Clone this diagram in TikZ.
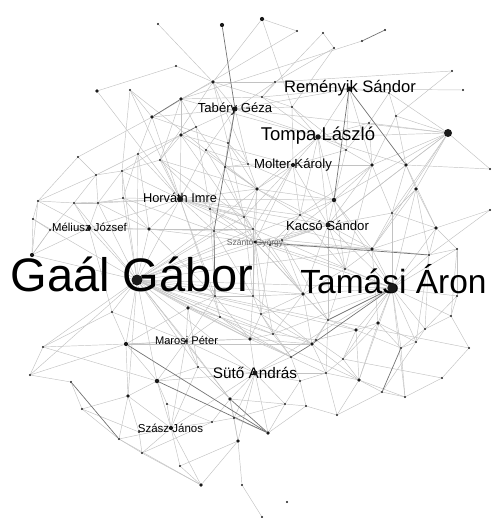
\documentclass[tikz,border=0pt]{standalone}
\usepackage{fontspec}
\newfontfamily\labfont{Liberation Sans}
\pgfdeclarelayer{edges}
\pgfdeclarelayer{dots}
\pgfsetlayers{edges,main,dots}
\begin{document}
\begin{tikzpicture}[x=1pt,y=-1pt,
  pt/.style={circle,fill=black!90,draw=none,inner sep=0pt},
  ln/.style={draw=black!24,line width=0.45pt},
  lnd/.style={draw=black!55,line width=0.7pt},
  lab/.style={font=\labfont,text=black,inner sep=0pt,anchor=base}]
\useasboundingbox (0,0) rectangle (491,518);

% vertices: name / x / y / diameter
\begin{pgfonlayer}{dots}
\foreach \n/\x/\y/\d in {
 a1/158/24/2.2, a2/222/25/4.2, a3/262/19/4.2, a4/297/31/2.2, a5/323/33/2.2,
 a6/385/30/2.2, a7/362/41/2.2, a8/334/48/2.2, a9/176/66/2.2, a10/213/82/3.8,
 a11/97/91/3.8, a12/130/90/2.2, a13/181/99/3.8, a14/152/117/3.8, a15/235/109/5,
 a16/196/127/2.2, a17/181/135/3.8, a18/228/143/2.2, a19/206/150/2.2, a20/138/154/2.2,
 a21/78/157/2.2, a22/160/160/2.2, a23/248/164/2.2, a24/225/167/2.2, a25/96/175/2.2,
 a26/122/171/2.2, a27/275/82/2.2, a28/452/71/2.2, a29/463/90/2.2, rem/349/89/5,
 a30/262/97/2.2, a31/389/93/2.2, a32/292/107/2.2, a33/396/116/2.2, a34/369/123/2.2,
 tom/318/137/5.5, big1/448/133/8, a35/346/150/2.2, mol/293/165/4.2, a36/372/165/3.8,
 a37/406/165/3.8, a38/490/169/2.2, a39/257/189/3.8, a40/334/200/4.5, a41/416/189/3.8,
 hor/180/199/6, a42/38/201/2.2, a43/74/203/2.2, a44/98/203/2.2, a45/123/198/2.2,
 a46/210/209/2.2, a47/33/219/2.2, a48/50/230/2.2, mel/89/228/4.5, a49/149/229/3.8,
 a50/244/217/2.2, a51/214/231/2.2, a52/300/215/2.2, a53/392/213/2.2, a54/490/210/2.2,
 kac/328/225/5, a55/436/228/3.8, a56/253/229/2.2, sza/255/242/3.5, a57/270/245/2.2,
 a58/282/240/2.2, a59/372/249/3.8, a60/457/249/2.2, a61/429/255/2.2, a62/32/255/4.2,
 gaal/137/280/11, a63/345/269/2.2, tam/392/288/9.5, a64/215/296/2.2, a65/253/296/2.2,
 a66/303/294/3.8, a67/457/296/2.2, a68/188/308/3.8, a69/112/312/2.2, a70/220/317/2.2,
 a71/261/314/2.2, a72/451/316/2.2, a73/328/320/2.2, a74/378/323/3.8, a75/356/330/3.8,
 a76/425/329/2.2, a77/250/339/3.8, a78/273/334/2.2, a79/312/344/3.8, a80/316/340/2.2,
 a81/416/342/2.2, a82/401/348/2.2, a83/469/348/2.2, a84/126/344/4.2, a85/43/347/2.2,
 mar/186/341/3.5, a86/291/357/2.2, a87/343/359/2.2, a88/198/367/2.2, sut/255/373/5,
 a89/326/373/2.2, a90/300/381/2.2, a91/359/380/3.8, a92/442/378/2.2, a93/30/375/2.2,
 a94/71/382/2.2, a95/157/381/4.5, a96/382/392/2.2, a97/405/397/2.2, a98/128/396/3.8,
 a99/230/399/3.8, a100/285/404/2.2, a101/306/406/2.2, a102/337/415/2.2, a103/82/409/2.2,
 a104/167/404/2.2, a105/234/418/2.2, a106/212/422/2.2, szj/171/428/4.2, a107/139/432/2.2,
 a108/119/439/2.2, a109/268/433/3.8, a110/238/441/3.8, a111/142/453/2.2, a112/180/466/2.2,
 a113/201/485/3.8, a114/242/485/2.2, a115/287/502/2.2, a116/262/517/2.2}
  \node[pt,minimum size=\d] (\n) at (\x,\y) {};
\end{pgfonlayer}

% links
\begin{pgfonlayer}{edges}
\foreach \a/\b in {
 a1/a10, a3/a4, a3/a10, a3/a32, a4/a14, a5/a8, a5/a30, a7/a13, a8/a32, a8/a27,
 a9/a11, a9/a10, a10/a15, a10/a22, a10/a13, a10/a30, a10/a23, a11/hor, a12/a26, a12/a14,
 a12/a19, a13/a17, a13/a30, a13/a16, a13/tom, a14/a20, a14/a21, a14/a15, a14/a18,
 a15/a16, a15/a18, a15/tom, a15/a19, a15/rem, a15/a27, a15/a32, a15/big1,
 a16/a24, a16/a46, a17/a20, a17/a26, a17/a22, a17/hor, a17/a39, a17/mol,
 a18/a24, a18/a23, a18/a50, a19/a23, a19/hor, a19/a56, a20/a25, a20/hor, a20/a45,
 a21/a25, a21/a42, a22/a26, a22/hor, a22/a46, a22/a39, a23/mol, a23/a24, a23/a39, a23/a40,
 a24/a46, a24/a50, a24/a39, a25/a42, a25/a44, a25/a43, a25/a26, a26/a45, a26/a44,
 a27/rem, a27/a28, a27/a30, a27/a10, a28/a33, a29/rem, a30/tom, a30/a32, a30/rem,
 a31/rem, a31/a34, a31/big1, a31/a33, a32/tom, a32/mol, a32/a35, a33/big1, a33/a37, a33/a36,
 a34/tom, a34/a36, a34/big1, a34/a35, rem/tom, rem/a35, rem/a36,
 tom/a35, tom/mol, tom/a40, tom/a39, tom/a52, tom/a37, tom/big1,
 big1/a37, big1/a36, big1/a41, big1/a59, big1/kac, big1/a53, big1/a40, big1/a38,
 a35/a40, a35/a36, a35/mol, mol/a52, mol/a39, mol/kac, mol/a24, mol/a36, mol/a50,
 a36/a63, a36/a40, a36/a53, a36/kac, a36/a52, a37/a41, a37/a55, a37/a53, a37/kac, a37/a38,
 a39/a56, a39/a50, a39/sza, a39/kac, a39/a40, a40/kac, a40/a52, a40/a59, a40/a58,
 a41/a53, a41/tam, a41/a59, a41/a61, a41/a55,
 hor/a45, hor/a44, hor/a49, hor/a46, hor/gaal, hor/a64, hor/a51, hor/mel, hor/a50,
 hor/a56, hor/a43, hor/a39, hor/sza, hor/a70,
 a42/a47, a42/a43, a42/a62, a42/mel, a43/a44, a43/mel, a43/a48, a44/a45, a44/mel, a44/a49,
 a45/a49, a45/gaal, a46/a51, a46/a56, a46/a50, a47/a62, a47/a48, a48/mel, a48/a62, a48/a49,
 mel/gaal, mel/a49, mel/a62, mel/a69, a49/gaal, a49/a51, a49/a56, a50/a56, a50/sza,
 a51/a64, a51/sza, a51/a56, a52/kac, a52/a58, a52/a57, a53/a55, a53/a59, a53/kac, a53/tam,
 a54/a61, a54/a55, kac/a59, kac/a57, kac/sza, kac/tam, kac/a63, kac/a58,
 a55/a60, a55/a61, a55/tam, a55/a59, a56/sza, a56/a65,
 sza/a57, sza/a59, sza/gaal, sza/a65, sza/a66, sza/a71, sza/a58,
 a57/a59, a57/a63, a57/a66, a58/a73, a58/a59, a59/tam, a59/a61, a59/a63, a59/a74,
 a60/a67, a60/a61, a60/tam, a60/a72, a61/tam, a61/a76, a61/a81, a62/gaal, a62/a48,
 gaal/a69, gaal/a84, gaal/mar, gaal/a68, gaal/a64, gaal/a70, gaal/a65, gaal/a56, gaal/a51,
 gaal/a50, gaal/tam, gaal/a66, gaal/a73, gaal/a79, gaal/sut, gaal/a86, gaal/a77, gaal/a98,
 gaal/a95, gaal/a85, gaal/a93, gaal/a39, gaal/a52, gaal/kac, gaal/a59, gaal/a71, gaal/a78,
 gaal/a20, gaal/a26, gaal/a44, gaal/a43, gaal/a47,
 a63/tam, a63/a66, a63/a73, tam/a66, tam/a67, tam/a72, tam/a74, tam/a75, tam/a76,
 tam/a81, tam/a82, tam/a40, tam/sza, tam/a71, tam/a78, tam/a87, tam/a91, tam/sut,
 tam/a56, tam/a97, a64/a68, a64/a65, a64/a70, a64/mar, a65/a71, a65/a77, a65/a66,
 a66/a71, a66/a73, a66/a79, a66/a78, a67/a72, a67/a76, a68/mar, a68/a70, a68/a84, a68/a88,
 a69/a84, a69/a85, a70/mar, a70/a77, a70/a78, a71/a78, a71/a77, a71/a79, a72/a76, a72/a83,
 a73/a79, a73/a75, a73/a80, a73/a83, a74/a75, a74/a81, a74/a82, a74/a91,
 a75/a91, a75/a80, a75/a87, a76/a81, a76/a82, a77/sut, a77/a78, a77/a86, a77/mar,
 a78/a80, a78/a86, a79/a80, a79/a91, a79/a89, a79/a77, a79/a84, a80/a87,
 a81/a82, a81/a96, a82/a97, a83/a92, a84/a98, a84/a95, a84/a93, a84/a85, a84/mar,
 a85/a95, a85/a93, mar/a88, mar/szj, mar/a95, mar/sut, mar/a99,
 a86/sut, a86/a90, a86/a89, a87/a91, a87/a92, a87/a89, a88/sut, a88/a99, a88/szj, a88/a95,
 sut/a99, sut/a90, sut/a89, sut/a100, sut/a109, sut/a110, sut/szj, sut/a95, sut/a105,
 a89/a90, a89/a102, a89/a91, a90/a100, a90/a101, a91/a96, a91/a97, a91/a102, a92/a97,
 a93/a94, a94/a103, a95/a98, a95/szj, a95/a104, a96/a97, a96/a102,
 a98/a108, a98/a107, a98/szj, a98/a103, a99/a105, a99/a106, a99/a110, a99/a100,
 a100/a101, a100/a109, a100/a105, a101/a102, a101/a109, a103/a107, a103/a108,
 a104/szj, a104/a106, a105/a106, a105/a110, a105/a109, a106/szj, a106/a111,
 szj/a107, szj/a108, szj/a111, szj/a112, szj/a113, a107/a111, a108/a111, a108/a113,
 a110/a112, a110/a114, a110/a113, a111/a113, a112/a113, a114/a116,
 hor/a52, hor/kac, hor/a40, hor/a59, a17/sza, a22/a50, a45/a51, a49/a64, a49/sza,
 a26/hor, a20/a49, a14/hor, a12/hor, a13/a22, a19/a39, a18/a39, a15/a24, a15/a23,
 a10/a18, mol/a56, mol/sza, tom/kac, a39/a52, a46/sza, a46/a64, a50/a65, a51/a65,
 a56/a66, sza/a73, sza/a78, kac/a66, kac/a73, a40/a63, a52/a63, a58/a66, a57/a71,
 a64/a77, a68/a77, a70/a86, a65/a79, a71/a86, a84/a77, a69/mar, gaal/a88, gaal/a99,
 gaal/a91, gaal/a75, a74/a87, a73/a89, a75/a82}
  \draw[ln] (\a) -- (\b);
% heavier links
\foreach \a/\b in {
 a2/a15, a15/a51, a13/a14, a16/a17, a6/a7, rem/a37, rem/a40, sza/a61,
 tam/a73, tam/a79, a79/a86, a82/a96, a84/a109, a95/a109, a94/a108, a99/a109, a51/a64}
  \draw[lnd] (\a) -- (\b);
\end{pgfonlayer}

% names
\node[lab,font=\labfont\fontsize{47}{47}\selectfont] (tGaal) at (132,291) {Gaál Gábor};
\node[lab,font=\labfont\fontsize{33.5}{33.5}\selectfont] (tTam) at (393.5,293) {Tamási Áron};
\node[lab,font=\labfont\fontsize{16.6}{16.6}\selectfont] (tRem) at (350,93) {Reményik Sándor};
\node[lab,font=\labfont\fontsize{18.5}{18.5}\selectfont] (tTom) at (318,141) {Tompa László};
\node[lab,font=\labfont\fontsize{13.1}{13.1}\selectfont] (tTab) at (235,113) {Tabéry Géza};
\node[lab,font=\labfont\fontsize{13.2}{13.2}\selectfont] (tMol) at (293,169) {Molter Károly};
\node[lab,font=\labfont\fontsize{12.8}{12.8}\selectfont] (tHor) at (180,203) {Horváth Imre};
\node[lab,font=\labfont\fontsize{11.4}{11.4}\selectfont] (tMel) at (89.5,232) {Méliusz József};
\node[lab,font=\labfont\fontsize{13.2}{13.2}\selectfont] (tKac) at (327.5,230) {Kacsó Sándor};
\node[lab,font=\labfont\fontsize{8.5}{8.5}\selectfont,text=black!60] (tSzG) at (255,245) {Szántó György};
\node[lab,font=\labfont\fontsize{11.1}{11.1}\selectfont] (tMar) at (186.5,344) {Marosi Péter};
\node[lab,font=\labfont\fontsize{15.3}{15.3}\selectfont] (tSut) at (255,378) {Sütő András};
\node[lab,font=\labfont\fontsize{11.5}{11.5}\selectfont] (tSzJ) at (170.5,432) {Szász János};
\end{tikzpicture}
\end{document}
